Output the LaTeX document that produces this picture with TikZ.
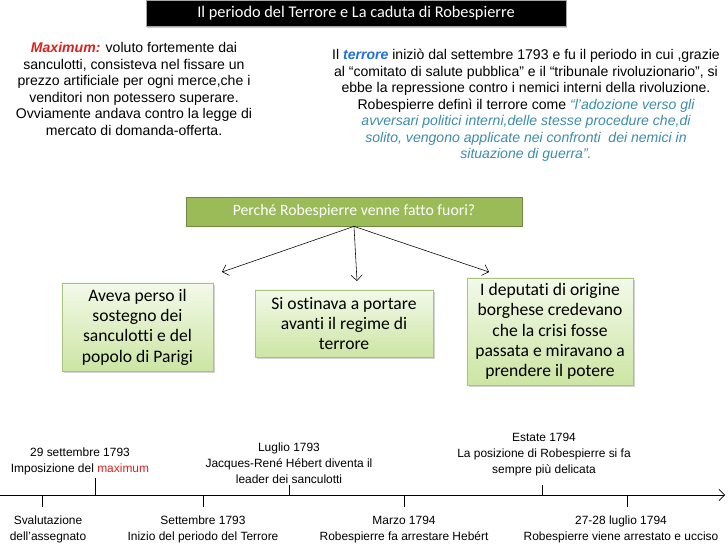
\documentclass[tikz,border=0pt]{standalone}
\usepackage{fontspec}
\setmainfont{Liberation Sans}
\newfontfamily\calib[Ligatures=NoCommon]{Carlito}
\usetikzlibrary{arrows.meta,positioning,shadows}
\definecolor{qgreen}{HTML}{9BBB59}
\definecolor{qedge}{HTML}{71893F}
\definecolor{boxtop}{HTML}{F3F9E9}
\definecolor{boxbot}{HTML}{CCE5A3}
\definecolor{boxedge}{HTML}{A8C47C}
\definecolor{maxred}{HTML}{E0201C}
\definecolor{terblue}{HTML}{1F6FE0}
\definecolor{quote}{HTML}{3C8CAA}

\begin{document}
\begin{tikzpicture}[x=0.025cm,y=0.025cm,>={Straight Barb[length=4pt]},
      txt/.style={align=center,font=\fontsize{10}{11.7}\selectfont,inner sep=0pt},
      titlebar/.style={fill=black,draw=gray!70,text=white,minimum width=10.5cm,minimum height=0.65cm,
        font=\calib\fontsize{11.6}{13}\selectfont,drop shadow={shadow xshift=1pt,shadow yshift=-1.5pt,opacity=0.4}},
      why/.style={fill=qgreen,draw=qedge,text=white,minimum width=8.4cm,minimum height=0.73cm,
        font=\calib\fontsize{11.2}{13}\selectfont},
      cause/.style={draw=boxedge,top color=boxtop,bottom color=boxbot,align=center,inner sep=2pt,
        font=\calib\fontsize{12.5}{14.5}\selectfont,drop shadow={shadow xshift=1.5pt,shadow yshift=-1.5pt,opacity=0.35}},
      ev/.style={align=center,font=\fontsize{8.5}{11.4}\selectfont,inner sep=1pt}]
    \useasboundingbox (0,0) rectangle (728,-546);
    % title
    \node[titlebar] (title) at (356,-13) {Il periodo del Terrore e La caduta di Robespierre};
    % the two notes at the top
    \node[txt] (maxnote) at (134,-89) {{\color{maxred}\bfseries\itshape Maximum:} voluto fortemente dai\\
      sanculotti, consisteva nel fissare un\\prezzo artificiale per ogni merce,che i\\
      venditori non potessero superare.\\Ovviamente andava contro la legge di\\mercato di domanda-offerta.};
    \node[txt] (ternote) at (526,-105.5) {Il {\color{terblue}\bfseries\itshape terrore} iniziò dal settembre 1793 e fu il periodo in cui ,grazie\\
      al “comitato di salute pubblica” e il “tribunale rivoluzionario”, si\\
      ebbe la repressione contro i nemici interni della rivoluzione.\\
      Robespierre definì il terrore come {\color{quote}\itshape “l’adozione verso gli}\\
      {\color{quote}\itshape avversari politici interni,delle stesse procedure che,di}\\
      {\color{quote}\itshape solito, vengono applicate nei confronti\ \ dei nemici in}\\
      {\color{quote}\itshape situazione di guerra”.}};
    % question and causes
    \node[why] (why) at (354,-211.5) {Perché Robespierre venne fatto fuori?};
    \node[cause,minimum width=3.78cm,minimum height=2.2cm] (c1) at (137.5,-327) {Aveva perso il\\sostegno dei\\sanculotti e del\\popolo di Parigi};
    \node[cause,minimum width=4.45cm,minimum height=1.68cm] (c2) at (344,-323.5) {Si ostinava a portare\\avanti il regime di\\terrore};
    \node[cause,minimum width=4.15cm,minimum height=2.68cm] (c3) at (550,-331.5) {I deputati di origine\\borghese credevano\\che la crisi fosse\\passata e miravano a\\prendere il potere};
    \coordinate (e1) at (222,-272);
    \coordinate (e2) at (357,-281);
    \coordinate (e3) at (489,-272);
    \draw[->] (why.south) -- (e1);
    \draw[->] (why.south) -- (e2);
    \draw[->] (why.south) -- (e3);
    % timeline
    \coordinate (t0) at (0,-495);
    \coordinate (tend) at (725,-495);
    \draw[->] (t0) -- (tend);
    \coordinate (u1) at (95,-478);
    \coordinate (u2) at (289,-485);
    \coordinate (u3) at (542,-485);
    \coordinate (d1) at (42,-507);
    \coordinate (d2) at (203,-507);
    \coordinate (d3) at (404,-507);
    \coordinate (d4) at (627,-507);
    \draw (u1) -- (u1|-t0);\draw (u2) -- (u2|-t0);\draw (u3) -- (u3|-t0);
    \draw (d1) -- (d1|-t0);\draw (d2) -- (d2|-t0);\draw (d3) -- (d3|-t0);\draw (d4) -- (d4|-t0);
    \node[ev,above=1pt of u1,xshift=-15*0.025cm] (l1) {29 settembre 1793\\Imposizione del {\color{maxred}maximum}};
    \node[ev,above=0pt of u2] (l2) {Luglio 1793\\Jacques-René Hébert diventa il\\leader dei sanculotti};
    \node[ev,above=5pt of u3,xshift=2*0.025cm] (l3) {Estate 1794\\La posizione di Robespierre si fa\\sempre più delicata};
    \node[ev,below=5pt of d1,xshift=6*0.025cm] (b1) {Svalutazione\\dell’assegnato};
    \node[ev,below=5pt of d2] (b2) {Settembre 1793\\Inizio del periodo del Terrore};
    \node[ev,below=5pt of d3] (b3) {Marzo 1794\\Robespierre fa arrestare Hebért};
    \node[ev,below=5pt of d4,xshift=-6*0.025cm] (b4) {27-28 luglio 1794\\Robespierre viene arrestato e ucciso};
  \end{tikzpicture}
\end{document}
